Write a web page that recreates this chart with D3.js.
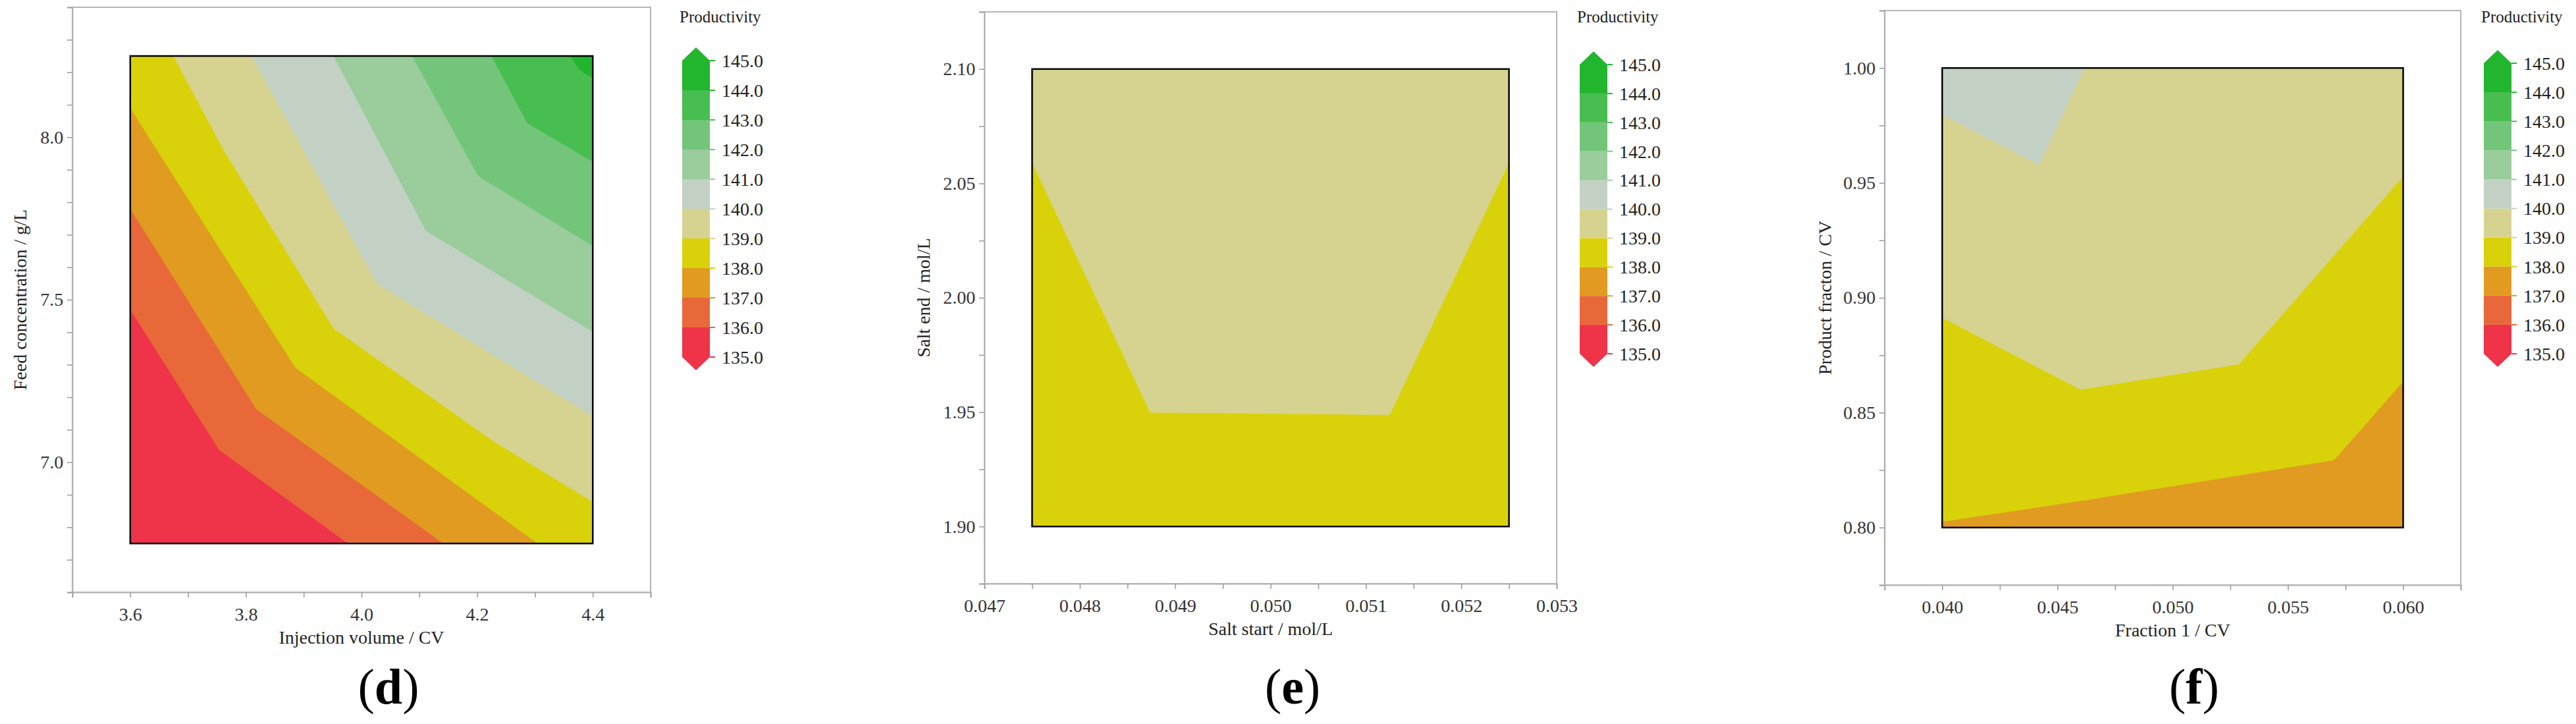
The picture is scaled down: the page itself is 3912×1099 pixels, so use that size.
<!DOCTYPE html>
<html>
<head>
<meta charset="utf-8">
<script src="https://cdn.jsdelivr.net/npm/d3@7"></script>
<style>
  body { margin: 0; background: #fff; }
  text { font-family: "Liberation Serif", "DejaVu Serif", serif; }
</style>
</head>
<body>
<div></div>
<script>
// three contour panels of productivity, each band filled from contour lines
// (data units), lowest band painted first

const levels = [135, 136, 137, 138, 139, 140, 141, 142, 143, 144, 145];
const bandColors = ['#ef3349', '#e8683a', '#e09b20', '#d9d20a', '#d6d391',
  '#c3d1c4', '#9acc9c', '#73c57a', '#48bd50', '#22b52e'];

// panel d
const dXTicks = [3.5, 3.6, 3.7, 3.8, 3.9, 4.0, 4.1, 4.2, 4.3, 4.4, 4.5];
const dXLabels = [3.6, 3.8, 4.0, 4.2, 4.4];
const dYTicks = [6.6, 6.7, 6.8, 6.9, 7.0, 7.1, 7.2, 7.3, 7.4, 7.5, 7.6, 7.7, 7.8, 7.9, 8.0, 8.1, 8.2, 8.3, 8.4];
const dYLabels = [7.0, 7.5, 8.0];
const dBase = 135;
const dLines = [
  { level: 136, pts: [[3.6, 7.471], [3.754, 7.038], [3.977, 6.75]] },
  { level: 137, pts: [[3.6, 7.781], [3.818, 7.164], [4.142, 6.75]] },
  { level: 138, pts: [[3.6, 8.091], [3.886, 7.291], [4.305, 6.75]] },
  { level: 139, pts: [[3.675, 8.25], [3.763, 7.957], [3.952, 7.412], [4.230, 7.063], [4.4, 6.878]] },
  { level: 140, pts: [[3.810, 8.25], [4.027, 7.550], [4.4, 7.142]] },
  { level: 141, pts: [[3.952, 8.25], [4.112, 7.712], [4.4, 7.402]] },
  { level: 142, pts: [[4.088, 8.25], [4.202, 7.881], [4.4, 7.666]] },
  { level: 143, pts: [[4.225, 8.25], [4.287, 8.044], [4.4, 7.925]] },
  { level: 144, pts: [[4.362, 8.25], [4.376, 8.210], [4.4, 8.181]] },
];

// panel e
const eXTicks = [0.047, 0.0475, 0.048, 0.0485, 0.049, 0.0495, 0.050, 0.0505, 0.051, 0.0515, 0.052, 0.0525, 0.053];
const eXLabels = [0.047, 0.048, 0.049, 0.050, 0.051, 0.052, 0.053];
const eYTicks = [1.875, 1.90, 1.925, 1.95, 1.975, 2.00, 2.025, 2.05, 2.075, 2.10, 2.125];
const eYLabels = [1.90, 1.95, 2.00, 2.05, 2.10];
const eBase = 138;
const eLines = [
  { level: 139, pts: [[0.0475, 2.0593], [0.04874, 1.9499], [0.05125, 1.9489], [0.0525, 2.0593]] },
];

// panel f
const fXTicks = [0.0375, 0.040, 0.0425, 0.045, 0.0475, 0.050, 0.0525, 0.055, 0.0575, 0.060, 0.0625];
const fXLabels = [0.040, 0.045, 0.050, 0.055, 0.060];
const fYTicks = [0.775, 0.80, 0.825, 0.85, 0.875, 0.90, 0.925, 0.95, 0.975, 1.00, 1.025];
const fYLabels = [0.80, 0.85, 0.90, 0.95, 1.00];
const fBase = 137;
const fLines = [
  { level: 138, pts: [[0.04, 0.8026], [0.0461, 0.8118], [0.0570, 0.8294], [0.06, 0.8636]] },
  { level: 139, pts: [[0.04, 0.8914], [0.0460, 0.8601], [0.05287, 0.8711], [0.06, 0.9529]] },
  { level: 140, pts: [[0.04, 0.9797], [0.0442, 0.958], [0.04617, 1.0]] },
];

const panels = [
  { id: 'd', frame: [110, 11, 988, 899], xDom: [3.5, 4.5], yDom: [6.6, 8.4],
    data: [3.6, 4.4, 6.75, 8.25], xTicks: dXTicks, xLabels: dXLabels, yTicks: dYTicks, yLabels: dYLabels,
    xFmt: '.1f', yFmt: '.1f', base: dBase, lines: dLines,
    xTitle: 'Injection volume / CV', yTitle: 'Feed concentration / g/L', yTitleX: 30,
    legendX: 1036, legendTop: 92, legendBottom: 542, letterX: 590 },
  { id: 'e', frame: [1495, 18, 2364, 886], xDom: [0.047, 0.053], yDom: [1.875, 2.125],
    data: [0.0475, 0.0525, 1.90, 2.10], xTicks: eXTicks, xLabels: eXLabels, yTicks: eYTicks, yLabels: eYLabels,
    xFmt: '.3f', yFmt: '.2f', base: eBase, lines: eLines,
    xTitle: 'Salt start / mol/L', yTitle: 'Salt end / mol/L', yTitleX: 1402,
    legendX: 2399, legendTop: 98, legendBottom: 537, letterX: 1963 },
  { id: 'f', frame: [2862, 16, 3737, 888], xDom: [0.0375, 0.0625], yDom: [0.775, 1.025],
    data: [0.04, 0.06, 0.80, 1.00], xTicks: fXTicks, xLabels: fXLabels, yTicks: fYTicks, yLabels: fYLabels,
    xFmt: '.3f', yFmt: '.2f', base: fBase, lines: fLines,
    xTitle: 'Fraction 1 / CV', yTitle: 'Product fracton / CV', yTitleX: 2771,
    legendX: 3772, legendTop: 96, legendBottom: 537, letterX: 3332 },
];

function bandColor(level) {
  return bandColors[levels.indexOf(level)];
}

// position of a point on the data rectangle perimeter, 0..4
function perim(p, r) {
  const [x0, x1, y0, y1] = r;
  const d = [Math.abs(p[1] - y0) / (y1 - y0), Math.abs(p[0] - x1) / (x1 - x0),
    Math.abs(p[1] - y1) / (y1 - y0), Math.abs(p[0] - x0) / (x1 - x0)];
  const e = d.indexOf(Math.min(...d));
  if (e === 0) return (p[0] - x0) / (x1 - x0);
  if (e === 1) return 1 + (p[1] - y0) / (y1 - y0);
  if (e === 2) return 2 + (x1 - p[0]) / (x1 - x0);
  return 3 + (y1 - p[1]) / (y1 - y0);
}

function regionAbove(pts, r) {
  const [x0, x1, y0, y1] = r;
  const corners = [[1, [x1, y0]], [2, [x1, y1]], [3, [x0, y1]], [4, [x0, y0]],
    [5, [x1, y0]], [6, [x1, y1]], [7, [x0, y1]]];
  const tEnd = perim(pts[pts.length - 1], r);
  let tStart = perim(pts[0], r);
  if (tStart <= tEnd) tStart += 4;
  const extra = corners.filter(c => c[0] > tEnd && c[0] < tStart).map(c => c[1]);
  return pts.concat(extra);
}

function createPanel(svg, cfg) {
  const [fx0, fy0, fx1, fy1] = cfg.frame;
  const x = d3.scaleLinear().domain(cfg.xDom).range([fx0, fx1]);
  const y = d3.scaleLinear().domain(cfg.yDom).range([fy1, fy0]);
  const g = svg.append('g');

  g.append('rect')
    .attr('x', fx0).attr('y', fy0).attr('width', fx1 - fx0).attr('height', fy1 - fy0)
    .attr('fill', '#fff').attr('stroke', '#b5b5b5').attr('stroke-width', 2);

  const [dx0, dx1, dy0, dy1] = cfg.data;
  g.append('rect')
    .attr('x', x(dx0)).attr('y', y(dy1)).attr('width', x(dx1) - x(dx0)).attr('height', y(dy0) - y(dy1))
    .attr('fill', bandColor(cfg.base));

  const line = d3.line().x(d => x(d[0])).y(d => y(d[1]));
  g.selectAll('path.band')
    .data(cfg.lines)
    .enter()
    .append('path')
    .attr('class', 'band')
    .attr('d', d => line(regionAbove(d.pts, cfg.data)) + 'Z')
    .attr('fill', d => bandColor(d.level))
    .attr('stroke', d => bandColor(d.level))
    .attr('stroke-width', 0.8);

  g.append('rect')
    .attr('x', x(dx0)).attr('y', y(dy1)).attr('width', x(dx1) - x(dx0)).attr('height', y(dy0) - y(dy1))
    .attr('fill', 'none').attr('stroke', '#000').attr('stroke-width', 2.5);

  const xf = d3.format(cfg.xFmt), yf = d3.format(cfg.yFmt);
  const has = (arr, v) => arr.some(a => Math.abs(a - v) < 1e-9);

  const xa = g.append('g')
    .attr('transform', `translate(0,${fy1})`)
    .call(d3.axisBottom(x).tickValues(cfg.xTicks).tickSizeOuter(0).tickSize(8)
      .tickFormat(v => has(cfg.xLabels, v) ? xf(v) : ''));
  const ya = g.append('g')
    .attr('transform', `translate(${fx0},0)`)
    .call(d3.axisLeft(y).tickValues(cfg.yTicks).tickSizeOuter(0).tickSize(8)
      .tickFormat(v => has(cfg.yLabels, v) ? yf(v) : ''));
  [xa, ya].forEach(a => {
    a.select('.domain').attr('stroke', '#b5b5b5').attr('stroke-width', 2);
    a.selectAll('.tick line').attr('stroke', '#999').attr('stroke-width', 1.5);
    a.selectAll('.tick text').attr('fill', '#333')
      .style('font-family', '"Liberation Serif", serif').style('font-size', '28px');
  });
  xa.selectAll('.tick text').attr('dy', '1.15em');
  ya.selectAll('.tick text').attr('dx', '-0.1em');

  g.append('text')
    .attr('x', (fx0 + fx1) / 2).attr('y', fy1 + 78)
    .attr('text-anchor', 'middle').attr('font-size', 28).attr('fill', '#222')
    .text(cfg.xTitle);
  g.append('text')
    .attr('transform', `translate(${cfg.yTitleX},${(fy0 + fy1) / 2}) rotate(-90)`)
    .attr('text-anchor', 'middle').attr('dy', '0.35em').attr('font-size', 28).attr('fill', '#222')
    .text(cfg.yTitle);

  g.append('text')
    .attr('x', cfg.letterX).attr('y', 1068)
    .attr('text-anchor', 'middle').attr('font-size', 76).attr('fill', '#000')
    .html(`(<tspan font-weight="bold">${cfg.id}</tspan>)`);

  createLegend(g, cfg);
}

function createLegend(g, cfg) {
  const w = 42, lx = cfg.legendX;
  const ly = d3.scaleLinear().domain([135, 145]).range([cfg.legendBottom, cfg.legendTop]);

  g.append('text')
    .attr('x', lx - 4).attr('y', 34).attr('font-size', 25).attr('fill', '#222')
    .text('Productivity');

  g.selectAll('rect.leg')
    .data(levels.slice(0, -1))
    .enter()
    .append('rect')
    .attr('class', 'leg')
    .attr('x', lx).attr('y', d => ly(d + 1)).attr('width', w).attr('height', d => ly(d) - ly(d + 1))
    .attr('fill', d => bandColor(d));

  g.append('path')
    .attr('d', `M${lx},${ly(145)} L${lx + w / 2},${ly(145) - 20} L${lx + w},${ly(145)} Z`)
    .attr('fill', bandColors[9]);
  g.append('path')
    .attr('d', `M${lx},${ly(135)} L${lx + w / 2},${ly(135) + 20} L${lx + w},${ly(135)} Z`)
    .attr('fill', bandColors[0]);

  const ticks = g.selectAll('g.lt')
    .data(levels)
    .enter()
    .append('g')
    .attr('class', 'lt')
    .attr('transform', d => `translate(${lx + w},${ly(d)})`);
  ticks.append('line')
    .attr('x1', 0).attr('x2', 8)
    .attr('stroke', (d, i) => bandColors[Math.min(i, 9)]).attr('stroke-width', 2);
  ticks.append('text')
    .attr('x', 18).attr('dy', '0.35em').attr('font-size', 28).attr('fill', '#222')
    .text(d => d3.format('.1f')(d));
}

document.addEventListener('DOMContentLoaded', () => {
  const svg = d3.select('div').append('svg')
    .attr('width', 3912).attr('height', 1099);
  panels.forEach(p => createPanel(svg, p));
});
</script>
</body>
</html>
